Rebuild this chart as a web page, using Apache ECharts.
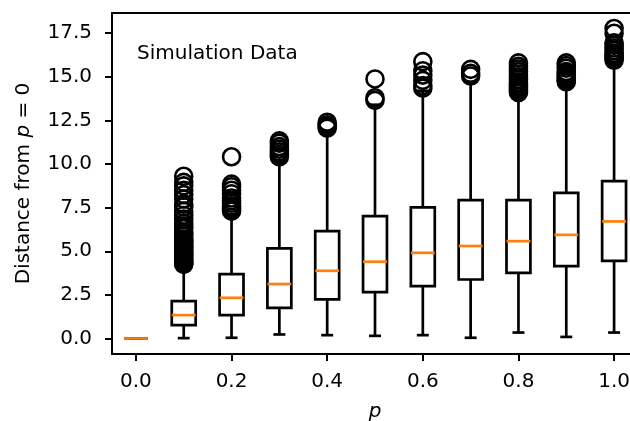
<!DOCTYPE html>
<html>
<head>
<meta charset="utf-8">
<script src="https://cdn.jsdelivr.net/npm/echarts@6/dist/echarts.min.js"></script>
<style>
  html, body { margin: 0; padding: 0; background: #fff; }
  #chart { width: 630px; height: 421px; }
</style>
</head>
<body>
<div id="chart"></div>
<script>
// ---- Data ----
const positions    = [0.0, 0.1, 0.2, 0.3, 0.4, 0.5, 0.6, 0.7, 0.8, 0.9, 1.0];
const whiskerLow   = [0.0, 0.02, 0.04, 0.23, 0.19, 0.15, 0.19, 0.04, 0.34, 0.09, 0.34];
const quartile1    = [0.0, 0.76, 1.34, 1.76, 2.24, 2.66, 3.00, 3.38, 3.76, 4.15, 4.45];
const medians      = [0.0, 1.34, 2.33, 3.12, 3.88, 4.40, 4.91, 5.30, 5.58, 5.94, 6.71];
const quartile3    = [0.0, 2.14, 3.69, 5.16, 6.16, 7.02, 7.52, 7.93, 7.93, 8.35, 9.02];
const whiskerHigh  = [0.0, 4.10, 7.10, 10.20, 11.90, 13.40, 14.20, 14.70, 14.00, 14.55, 15.80];
const outliers = [
  [],
  [4.25, 4.3, 4.4, 4.5, 4.6, 4.7, 4.8, 4.9, 5.0, 5.1, 5.2, 5.3, 5.4, 5.5, 5.6, 5.7, 5.85, 6.0, 6.1, 6.3, 6.45, 6.6, 6.85, 7.05, 7.3, 7.55, 7.7, 8.0, 8.25, 8.5, 8.75, 8.95, 9.3],
  [7.3, 7.4, 7.5, 7.6, 7.75, 7.9, 8.05, 8.3, 8.5, 8.7, 8.85, 10.42],
  [10.42, 10.55, 10.7, 10.85, 11.0, 11.2, 11.33],
  [12.06, 12.15, 12.25, 12.4],
  [13.65, 13.8, 14.88],
  [14.35, 14.5, 14.8, 15.1, 15.35, 15.87],
  [15.05, 15.2, 15.43],
  [14.1, 14.2, 14.3, 14.4, 14.5, 14.6, 14.7, 14.85, 15.0, 15.15, 15.3, 15.45, 15.6, 15.8],
  [14.72, 14.8, 14.9, 15.0, 15.1, 15.2, 15.3, 15.5, 15.65, 15.8],
  [15.95, 16.05, 16.15, 16.25, 16.35, 16.5, 16.65, 16.8, 16.95, 17.5, 17.77]
];
const xTickValues = [0.0, 0.2, 0.4, 0.6, 0.8, 1.0];
const yTickValues = [0.0, 2.5, 5.0, 7.5, 10.0, 12.5, 15.0, 17.5];
const boxWidth = 0.05;

// ---- Build library data ----
const boxData = positions.map((p, i) => [p, whiskerLow[i], quartile1[i], medians[i], quartile3[i], whiskerHigh[i]]);
const flierData = [];
outliers.forEach((list, i) => list.forEach(v => flierData.push([positions[i], v])));

const FONT = 'DejaVu Sans';
const chart = echarts.init(document.getElementById('chart'), null, { renderer: 'canvas' });
const LW = 2.7;

function renderBox(params, api) {
  const p = api.value(0);
  const lo = api.coord([p, api.value(1)]);
  const b1 = api.coord([p, api.value(2)]);
  const md = api.coord([p, api.value(3)]);
  const b3 = api.coord([p, api.value(4)]);
  const hi = api.coord([p, api.value(5)]);
  const hw = api.size([boxWidth, 0])[0] / 2;
  const cw = hw / 2;
  const x = lo[0];
  const ls = { stroke: '#000', lineWidth: LW, fill: null };
  return {
    type: 'group',
    children: [
      { type: 'line', shape: { x1: x, y1: b1[1], x2: x, y2: lo[1] }, style: ls },
      { type: 'line', shape: { x1: x, y1: b3[1], x2: x, y2: hi[1] }, style: ls },
      { type: 'line', shape: { x1: x - cw, y1: lo[1], x2: x + cw, y2: lo[1] }, style: ls },
      { type: 'line', shape: { x1: x - cw, y1: hi[1], x2: x + cw, y2: hi[1] }, style: ls },
      { type: 'rect', shape: { x: x - hw, y: b3[1], width: 2 * hw, height: b1[1] - b3[1] }, style: { stroke: '#000', lineWidth: LW, fill: null } },
      { type: 'line', shape: { x1: x - hw, y1: md[1], x2: x + hw, y2: md[1] }, style: { stroke: '#ff7f0e', lineWidth: LW } }
    ]
  };
}

chart.setOption({
  animation: false,
  backgroundColor: '#fff',
  textStyle: { fontFamily: FONT },
  title: {
    text: 'Simulation Data',
    left: 132, top: 39,
    textStyle: { fontFamily: FONT, fontSize: 20, fontWeight: 'normal', color: '#000' }
  },
  grid: {
    left: 112, top: 13, right: -8, bottom: 67,
    outerBoundsMode: 'none',
    containLabel: false,
    show: true, borderColor: '#000', borderWidth: 2, backgroundColor: 'transparent'
  },
  xAxis: {
    type: 'value',
    min: -0.05, max: 1.05,
    name: 'p',
    nameLocation: 'middle',
    nameGap: 48,
    nameTextStyle: { fontFamily: FONT, fontSize: 20, fontStyle: 'italic', color: '#000' },
    axisLine: { show: true, onZero: false, lineStyle: { color: '#000', width: 2 } },
    axisTick: { show: true, length: 7, customValues: xTickValues, lineStyle: { color: '#000', width: 2 } },
    axisLabel: { customValues: xTickValues, margin: 18, fontFamily: FONT, fontSize: 20, color: '#000',
      formatter: v => Number(v).toFixed(1) },
    splitLine: { show: false }
  },
  yAxis: {
    type: 'value',
    min: -0.89, max: 18.66,
    name: '{a|Distance from }{b|p}{a| = 0}',
    nameLocation: 'middle',
    nameRotate: 90,
    nameGap: 78,
    nameTextStyle: {
      fontFamily: FONT, fontSize: 20, color: '#000',
      rich: {
        a: { fontFamily: FONT, fontSize: 20, color: '#000' },
        b: { fontFamily: FONT, fontSize: 20, color: '#000', fontStyle: 'italic' }
      }
    },
    axisLine: { show: true, onZero: false, lineStyle: { color: '#000', width: 2 } },
    axisTick: { show: true, length: 7, customValues: yTickValues, lineStyle: { color: '#000', width: 2 } },
    axisLabel: { customValues: yTickValues, margin: 20, fontFamily: FONT, fontSize: 20, color: '#000',
      formatter: v => Number(v).toFixed(1) },
    splitLine: { show: false }
  },
  series: [
    {
      type: 'custom',
      renderItem: renderBox,
      encode: { x: 0, y: [1, 2, 3, 4, 5] },
      data: boxData,
      z: 2
    },
    {
      type: 'scatter',
      data: flierData,
      symbol: 'circle',
      symbolSize: 17,
      itemStyle: { color: 'rgba(0,0,0,0)', borderColor: '#000', borderWidth: 2.6, opacity: 1 },
      emphasis: { disabled: true },
      z: 3
    }
  ]
});
</script>
</body>
</html>
